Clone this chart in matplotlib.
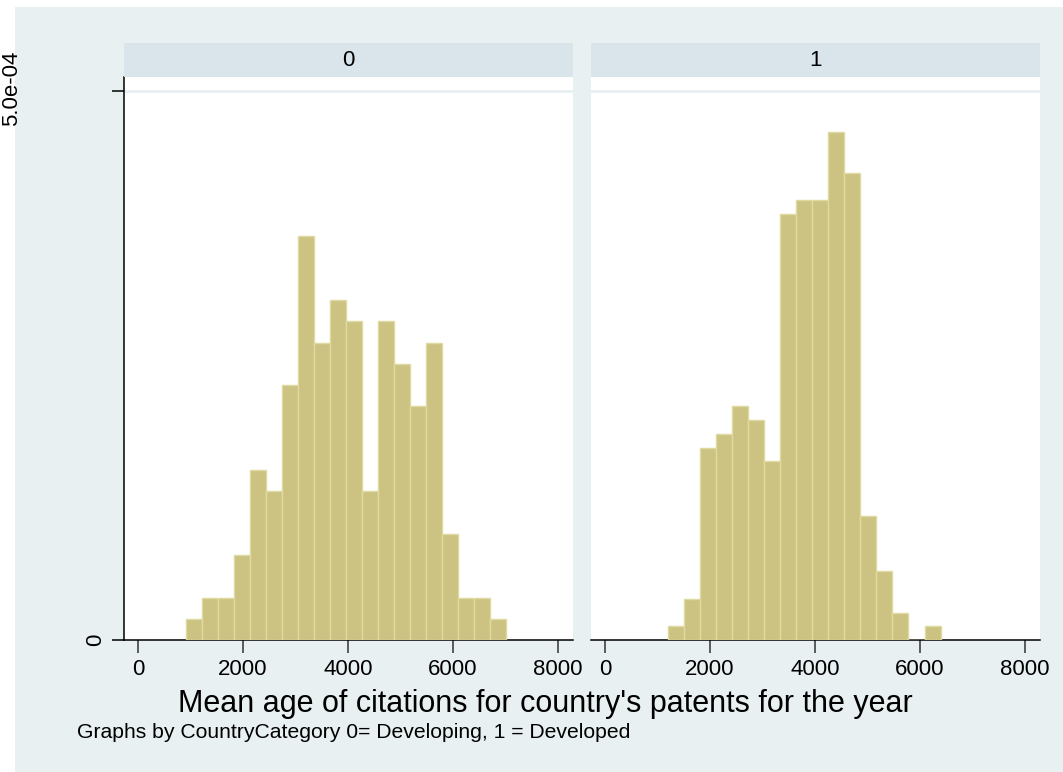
import numpy as np
import matplotlib
matplotlib.use("Agg")
import matplotlib.pyplot as plt
from matplotlib.patches import Rectangle

plt.rcParams['font.family'] = ['Liberation Sans', 'DejaVu Sans']

# Histogram bins (lower edge, width, counts) for each country category
dev_start, dev_width = 922.0, 304.0
dev_counts = [1, 2, 2, 4, 8, 7, 12, 19, 14, 16, 15, 7, 15, 13, 11, 14, 5, 2, 2, 1]

ind_start, ind_width = 1206.0, 305.0
ind_counts = [1, 3, 14, 15, 17, 16, 13, 31, 32, 32, 37, 34, 9, 5, 2, 0, 1]

panel_labels = ["0", "1"]
x_ticks = [0, 2000, 4000, 6000, 8000]
y_ticks = [0, 5.0e-04]
y_tick_labels = ["0", "5.0e-04"]
x_title = "Mean age of citations for country's patents for the year"
note = "Graphs by CountryCategory 0= Developing, 1 = Developed"

W, H = 1063, 772
fig = plt.figure(figsize=(W / 100, H / 100), dpi=100, facecolor="white")

outer_bg = "#e8f0f2"
strip_bg = "#d9e5ea"
grid_col = "#e6eef0"
bar_fill = "#ccc383"
bar_edge = "#e0d9a0"

TICK_FS = 16


def px_rect(x0, y0, x1, y1):
    """Convert a pixel box (top-left origin) into figure-fraction coords."""
    return [x0 / W, 1 - y1 / H, (x1 - x0) / W, (y1 - y0) / H]


# graph region background
fig.patches.append(Rectangle((15 / W, 0), 1 - 15 / W, 1 - 7 / H,
                             transform=fig.transFigure, facecolor=outer_bg,
                             edgecolor="none", zorder=-10))

panels = [
    (124, 573, dev_start, dev_width, dev_counts),
    (591, 1040, ind_start, ind_width, ind_counts),
]

ytop = 5.0e-04 * (640 - 77) / (640 - 91)

for i, (x0, x1, start, width, counts) in enumerate(panels):
    edges = start + width * np.arange(len(counts) + 1)
    centers = (edges[:-1] + edges[1:]) / 2

    ax = fig.add_axes(px_rect(x0, 77, x1, 640))
    ax.set_facecolor("white")
    ax.hist(centers, bins=edges, weights=counts, density=True,
            color=bar_fill, edgecolor=bar_edge, linewidth=1.0, zorder=3)
    ax.set_xlim(-267, 8286)
    ax.set_ylim(0, ytop)
    ax.axhline(y_ticks[1], color=grid_col, lw=1.8, zorder=1)

    for s in ["top", "right"]:
        ax.spines[s].set_visible(False)
    ax.spines["bottom"].set_linewidth(1.1)
    ax.spines["bottom"].set_color("black")
    ax.set_xticks(x_ticks)
    ax.set_xticklabels([str(t) for t in x_ticks])
    ax.tick_params(axis="x", direction="out", length=9, width=1.1,
                   labelsize=TICK_FS, pad=5, color="#333333")
    if i == 0:
        ax.spines["left"].set_linewidth(1.1)
        ax.set_yticks(y_ticks)
        ax.set_yticklabels(["0", ""])
        ax.tick_params(axis="y", direction="out", length=9, width=1.1,
                       labelsize=TICK_FS, pad=4)
        for lab in ax.get_yticklabels():
            lab.set_rotation(90)
            lab.set_va("center")
    else:
        ax.spines["left"].set_visible(False)
        ax.set_yticks([])

    sax = fig.add_axes(px_rect(x0, 43, x1, 77))
    sax.set_facecolor(strip_bg)
    sax.set_xticks([])
    sax.set_yticks([])
    for s in sax.spines.values():
        s.set_visible(False)
    sax.text(0.5, 0.5, panel_labels[i], ha="center", va="center",
             fontsize=TICK_FS, transform=sax.transAxes)

# upper y tick label, pushed against the left edge of the figure
fig.text(22 / W, 1 - 88 / H, y_tick_labels[1], rotation=90, ha="right",
         va="center", fontsize=TICK_FS)

fig.text(545 / W, 1 - 704 / H, x_title, ha="center", va="center", fontsize=22)
fig.text(77 / W, 1 - 733 / H, note, ha="left", va="center", fontsize=15.2)

fig.savefig("out.png", dpi=100, facecolor=fig.get_facecolor())
